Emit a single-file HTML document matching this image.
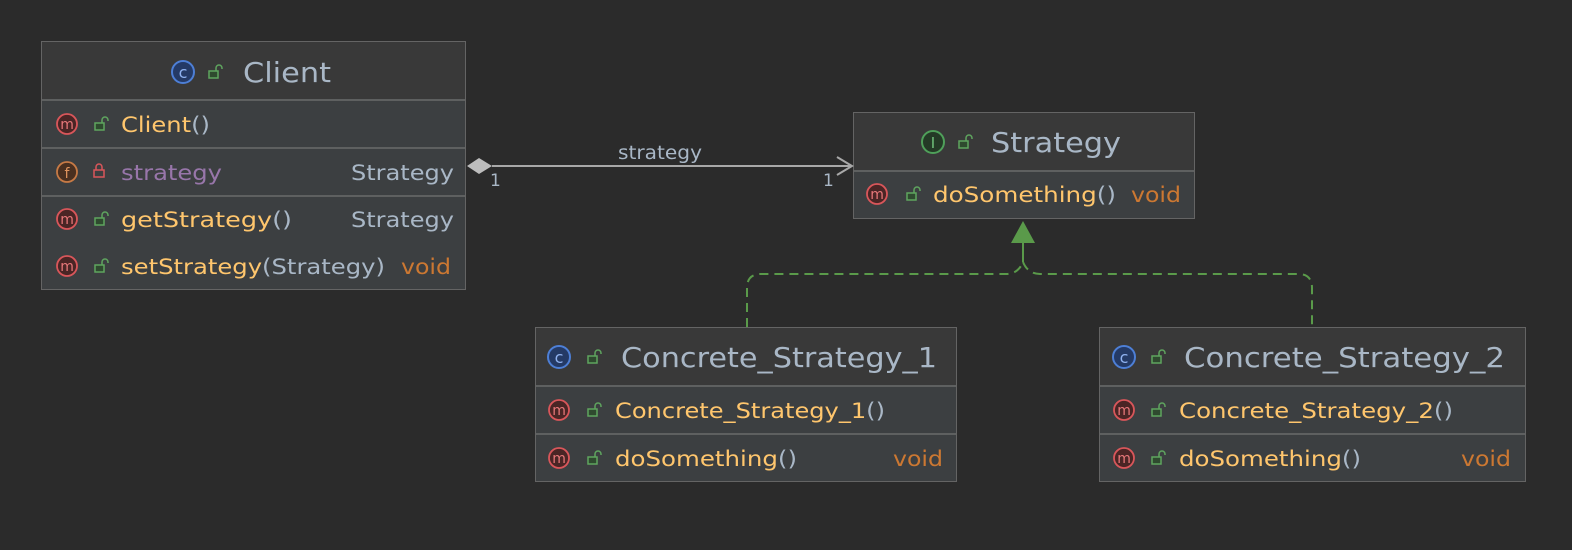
<!DOCTYPE html>
<html><head><meta charset="utf-8"><style>
html,body{margin:0;padding:0;background:#2b2b2b;overflow:hidden;width:1572px;height:550px;}
svg{display:block;}
text{font-family:"DejaVu Sans","Liberation Sans",sans-serif;}
.h{font-size:28px;fill:#a9b7c6;}
.r{font-size:21px;}
.m{fill:#ffc66d;}.t{fill:#a9b7c6;}.v{fill:#cc7832;}.f{fill:#9876aa;}
</style></head><body>
<svg width="1572" height="550" viewBox="0 0 1572 550" xmlns="http://www.w3.org/2000/svg">
<defs>
<g id="mi"><circle r="10" fill="#4a2525" stroke="#d9565a" stroke-width="1.8"/><text x="0" y="5" text-anchor="middle" font-size="14" fill="#e8787a">m</text></g>
<g id="lk"><rect x="-6" y="-1" width="9" height="7" fill="#2f4a2f" stroke="#5fa55f" stroke-width="1.5"/><path d="M1,-1 v-3 a3,3 0 0 1 6,0 v1" fill="none" stroke="#5fa55f" stroke-width="1.5"/></g>
<g id="ci"><circle r="11" fill="#243a66" stroke="#4d7fd6" stroke-width="2"/><text x="0" y="6" text-anchor="middle" font-size="16" fill="#8fb2f0">c</text></g>
</defs>
<rect width="1572" height="550" fill="#2b2b2b"/>

<!-- Client -->
<rect x="41.5" y="41.5" width="424" height="248" fill="#3c3f41" stroke="#646464"/>
<rect x="42" y="42" width="423" height="58" fill="#393939"/>
<line x1="42" y1="100" x2="465" y2="100" stroke="#5e6060" stroke-width="2"/>
<line x1="42" y1="148" x2="465" y2="148" stroke="#5e6060" stroke-width="2"/>
<line x1="42" y1="196" x2="465" y2="196" stroke="#5e6060" stroke-width="2"/>
<use href="#ci" x="183" y="72"/><use href="#lk" x="215" y="72"/>
<text class="h" x="243" y="82" textLength="88" lengthAdjust="spacingAndGlyphs">Client</text>
<use href="#mi" x="67" y="124"/><use href="#lk" x="101" y="124"/>
<text class="r" x="121" y="132" textLength="89" lengthAdjust="spacingAndGlyphs"><tspan class="m">Client</tspan><tspan class="t">()</tspan></text>
<circle cx="67" cy="172" r="10" fill="#4a3020" stroke="#c77a45" stroke-width="1.8"/><text x="67" y="178" text-anchor="middle" font-size="14" fill="#e0945e">f</text>
<rect x="94" y="170" width="10" height="7" fill="none" stroke="#d9565a" stroke-width="1.5"/><path d="M96,170 v-3 a3,3 0 0 1 6,0 v3" fill="none" stroke="#d9565a" stroke-width="1.5"/>
<text class="r f" x="121" y="180" textLength="101" lengthAdjust="spacingAndGlyphs">strategy</text>
<text class="r t" x="351" y="180" textLength="103" lengthAdjust="spacingAndGlyphs">Strategy</text>
<use href="#mi" x="67" y="219"/><use href="#lk" x="101" y="219"/>
<text class="r" x="121" y="227" textLength="171" lengthAdjust="spacingAndGlyphs"><tspan class="m">getStrategy</tspan><tspan class="t">()</tspan></text>
<text class="r t" x="351" y="227" textLength="103" lengthAdjust="spacingAndGlyphs">Strategy</text>
<use href="#mi" x="67" y="266"/><use href="#lk" x="101" y="266"/>
<text class="r" x="121" y="274" textLength="264" lengthAdjust="spacingAndGlyphs"><tspan class="m">setStrategy</tspan><tspan class="t">(Strategy)</tspan></text>
<text class="r v" x="401" y="274" textLength="50" lengthAdjust="spacingAndGlyphs">void</text>

<!-- Strategy -->
<rect x="853.5" y="112.5" width="341" height="106" fill="#3c3f41" stroke="#646464"/>
<rect x="854" y="113" width="340" height="58" fill="#393939"/>
<line x1="854" y1="171" x2="1194" y2="171" stroke="#5e6060" stroke-width="2"/>
<circle cx="933" cy="142" r="11" fill="#243a26" stroke="#4fa05a" stroke-width="2"/><text x="933" y="148" text-anchor="middle" font-size="15" fill="#6fc07a">I</text>
<use href="#lk" x="965" y="142"/>
<text class="h" x="991" y="152" textLength="130" lengthAdjust="spacingAndGlyphs">Strategy</text>
<use href="#mi" x="877" y="194"/><use href="#lk" x="913" y="194"/>
<text class="r" x="933" y="202" textLength="183" lengthAdjust="spacingAndGlyphs"><tspan class="m">doSomething</tspan><tspan class="t">()</tspan></text>
<text class="r v" x="1131" y="202" textLength="50" lengthAdjust="spacingAndGlyphs">void</text>

<!-- CS1 -->
<rect x="535.5" y="327.5" width="421" height="154" fill="#3c3f41" stroke="#646464"/>
<rect x="536" y="328" width="420" height="58" fill="#393939"/>
<line x1="536" y1="386" x2="956" y2="386" stroke="#5e6060" stroke-width="2"/>
<line x1="536" y1="434" x2="956" y2="434" stroke="#5e6060" stroke-width="2"/>
<use href="#ci" x="559" y="357"/><use href="#lk" x="594" y="357"/>
<text class="h" x="621" y="367" textLength="316" lengthAdjust="spacingAndGlyphs">Concrete_Strategy_1</text>
<use href="#mi" x="559" y="410"/><use href="#lk" x="594" y="410"/>
<text class="r" x="615" y="418" textLength="270" lengthAdjust="spacingAndGlyphs"><tspan class="m">Concrete_Strategy_1</tspan><tspan class="t">()</tspan></text>
<use href="#mi" x="559" y="458"/><use href="#lk" x="594" y="458"/>
<text class="r" x="615" y="466" textLength="182" lengthAdjust="spacingAndGlyphs"><tspan class="m">doSomething</tspan><tspan class="t">()</tspan></text>
<text class="r v" x="893" y="466" textLength="50" lengthAdjust="spacingAndGlyphs">void</text>

<!-- CS2 -->
<rect x="1099.5" y="327.5" width="426" height="154" fill="#3c3f41" stroke="#646464"/>
<rect x="1100" y="328" width="425" height="58" fill="#393939"/>
<line x1="1100" y1="386" x2="1525" y2="386" stroke="#5e6060" stroke-width="2"/>
<line x1="1100" y1="434" x2="1525" y2="434" stroke="#5e6060" stroke-width="2"/>
<use href="#ci" x="1124" y="357"/><use href="#lk" x="1158" y="357"/>
<text class="h" x="1184" y="367" textLength="321" lengthAdjust="spacingAndGlyphs">Concrete_Strategy_2</text>
<use href="#mi" x="1124" y="410"/><use href="#lk" x="1158" y="410"/>
<text class="r" x="1179" y="418" textLength="274" lengthAdjust="spacingAndGlyphs"><tspan class="m">Concrete_Strategy_2</tspan><tspan class="t">()</tspan></text>
<use href="#mi" x="1124" y="458"/><use href="#lk" x="1158" y="458"/>
<text class="r" x="1179" y="466" textLength="182" lengthAdjust="spacingAndGlyphs"><tspan class="m">doSomething</tspan><tspan class="t">()</tspan></text>
<text class="r v" x="1461" y="466" textLength="50" lengthAdjust="spacingAndGlyphs">void</text>

<!-- association -->
<line x1="492" y1="166" x2="852" y2="166" stroke="#a8a8a8" stroke-width="2"/>
<polygon points="467,166 479,158 492,166 479,174" fill="#bdbdbd"/>
<polyline points="837,157 852,166 837,175" fill="none" stroke="#a8a8a8" stroke-width="2"/>
<text x="618" y="159" font-size="19" fill="#a9b7c6" textLength="84" lengthAdjust="spacingAndGlyphs">strategy</text>
<text x="490" y="186" font-size="17" fill="#a9b7c6">1</text>
<text x="823" y="186" font-size="17" fill="#a9b7c6">1</text>

<!-- realization -->
<path d="M747,327 V288 Q747,274 761,274 H1006 Q1018,274 1023,262 M1023,262 Q1028,274 1040,274 H1298 Q1312,274 1312,288 V327" fill="none" stroke="#5a9a4a" stroke-width="2" stroke-dasharray="9,6"/>
<line x1="1023" y1="262" x2="1023" y2="240" stroke="#5a9a4a" stroke-width="2"/>
<polygon points="1023,221 1011,243 1035,243" fill="#5a9a4a"/>
</svg>
</body></html>
